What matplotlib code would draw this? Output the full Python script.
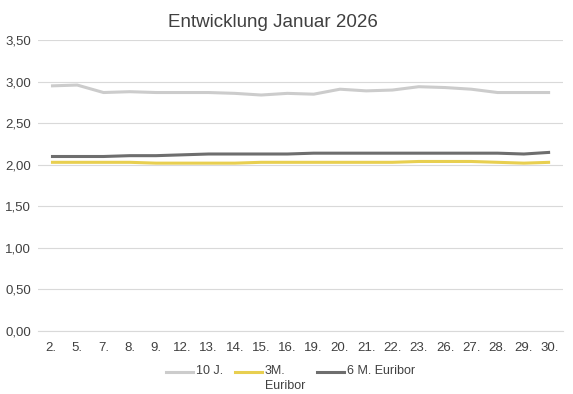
import matplotlib.pyplot as plt
from matplotlib.ticker import FuncFormatter
from matplotlib.lines import Line2D

plt.rcParams['font.family'] = ['Liberation Sans', 'DejaVu Sans']

days = ["2.", "5.", "7.", "8.", "9.", "12.", "13.", "14.", "15.", "16.",
        "19.", "20.", "21.", "22.", "23.", "26.", "27.", "28.", "29.", "30."]
j10 = [2.95, 2.96, 2.87, 2.88, 2.87, 2.87, 2.87, 2.86, 2.84, 2.86,
       2.85, 2.91, 2.89, 2.90, 2.94, 2.93, 2.91, 2.87, 2.87, 2.87]
m3 = [2.03, 2.03, 2.03, 2.03, 2.02, 2.02, 2.02, 2.02, 2.03, 2.03,
      2.03, 2.03, 2.03, 2.03, 2.04, 2.04, 2.04, 2.03, 2.02, 2.03]
m6 = [2.10, 2.10, 2.10, 2.11, 2.11, 2.12, 2.13, 2.13, 2.13, 2.13,
      2.14, 2.14, 2.14, 2.14, 2.14, 2.14, 2.14, 2.14, 2.13, 2.15]
series = [("10 J.", j10, '#cccccc'),
          ("3M.\nEuribor", m3, '#e8cf50'),
          ("6 M. Euribor", m6, '#6e6e6e')]

W, H = 573, 394
fig = plt.figure(figsize=(W / 100, H / 100), dpi=100)
ax = fig.add_axes([0.066, 0.16, 0.917, 0.738])

x = list(range(len(days)))
for name, vals, col in series:
    ax.plot(x, vals, color=col, lw=2.2, solid_capstyle='butt')

ax.set_ylim(0, 3.5)
ax.set_yticks([0, 0.5, 1.0, 1.5, 2.0, 2.5, 3.0, 3.5])
ax.yaxis.set_major_formatter(FuncFormatter(lambda v, p: f"{v:.2f}".replace('.', ',')))
ax.set_xlim(-0.5, len(days) - 0.5)
ax.set_xticks(x)
ax.set_xticklabels(days)
ax.grid(axis='y', color='#d9d9d9', lw=0.8)
ax.set_axisbelow(True)
for s in ['left', 'right', 'top']:
    ax.spines[s].set_visible(False)
ax.spines['bottom'].set_color('#d9d9d9')
ax.tick_params(axis='both', length=0, labelsize=9.5, colors='#404040')
ax.tick_params(axis='x', pad=8)
ax.tick_params(axis='y', pad=5)

fig.text(0.477, 0.944, 'Entwicklung Januar 2026', ha='center', va='center',
         fontsize=13.5, color='#404040')

# legend drawn manually (handle + label), first label line aligned with handle
leg_x = [166, 235, 317]
y_line = 372
for (name, vals, col), lx in zip(series, leg_x):
    fig.add_artist(Line2D([lx / W, (lx + 27) / W], [1 - y_line / H, 1 - y_line / H],
                          color=col, lw=2.2, transform=fig.transFigure))
    fig.text((lx + 30) / W, 1 - (y_line - 7) / H, name, ha='left', va='top',
             fontsize=9, color='#404040', linespacing=1.3)

fig.savefig('out.png', dpi=100)
